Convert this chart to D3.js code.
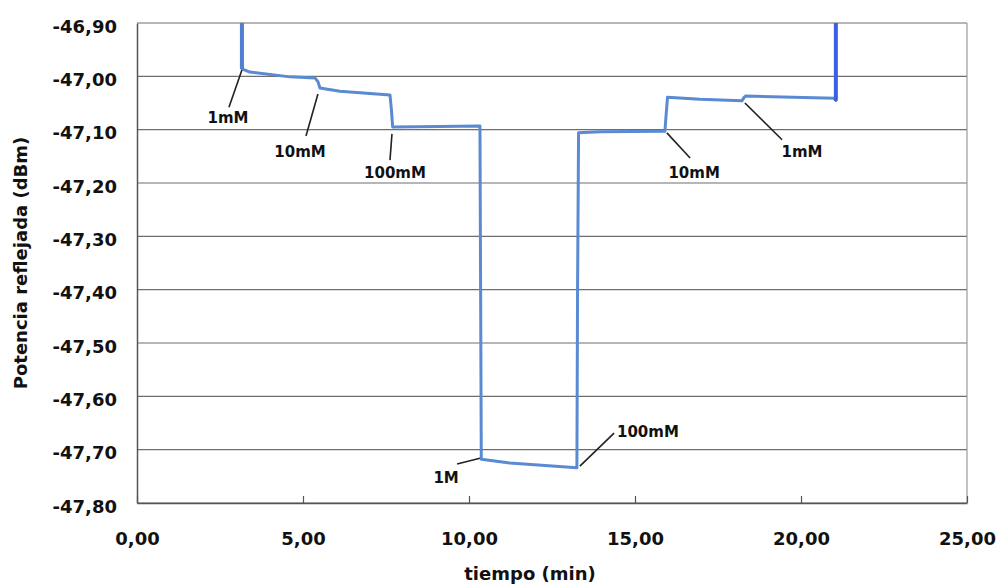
<!DOCTYPE html>
<html>
<head>
<meta charset="utf-8">
<script src="https://cdn.jsdelivr.net/npm/d3@7"></script>
<style>
  body { margin: 0; background: #fff; }
  svg { display: block; font-family: "DejaVu Sans", sans-serif; font-weight: bold; }
</style>
</head>
<body>
<div id="chart"></div>
<script>
// reflected power trace
const time = [3.16, 3.16, 3.40, 4.61, 5.36, 5.45, 5.51, 6.11, 7.62, 7.66, 7.70, 9.13, 10.33, 10.35, 10.37, 11.23, 13.25, 13.27, 13.30, 13.95, 15.90, 15.94, 15.98, 16.96, 18.22, 18.28, 18.33, 21.02]
const power = [-46.80, -46.986, -46.992, -47.001, -47.003, -47.010, -47.022, -47.028, -47.035, -47.060, -47.095, -47.094, -47.093, -47.40, -47.718, -47.725, -47.734, -47.40, -47.106, -47.104, -47.103, -47.070, -47.039, -47.043, -47.046, -47.040, -47.037, -47.041]

// last segment, drawn brighter
const recoveryTime = [21.02, 21.05, 21.05]
const recoveryPower = [-47.041, -47.044, -46.80]

const xTicks = [0, 5, 10, 15, 20, 25]
const yTicks = [-46.9, -47.0, -47.1, -47.2, -47.3, -47.4, -47.5, -47.6, -47.7, -47.8]

// annotations: label, arrow start (t,v), arrow end (t,v), label centre (t,v)
const labels = ["1mM", "10mM", "100mM", "1M", "100mM", "10mM", "1mM"]
const fromT = [3.16, 5.45, 7.68, 10.33, 13.34, 15.96, 18.31]
const fromV = [-46.988, -47.033, -47.108, -47.716, -47.731, -47.106, -47.050]
const toT = [2.77, 5.09, 7.62, 9.64, 14.37, 16.66, 19.43]
const toV = [-47.058, -47.112, -47.157, -47.727, -47.669, -47.153, -47.119]
const textT = [2.74, 4.91, 7.77, 9.31, 15.39, 16.78, 20.03]
const textV = [-47.078, -47.142, -47.181, -47.753, -47.667, -47.180, -47.142]

const width = 996
const height = 585
const margin = { top: 23, right: 29, bottom: 82, left: 137 }

const svg = d3.select("#chart")
  .append("svg")
  .attr("width", width)
  .attr("height", height)

const x = d3.scaleLinear()
  .domain([0, 25])
  .range([margin.left, width - margin.right])

const y = d3.scaleLinear()
  .domain([-47.8, -46.9])
  .range([height - margin.bottom, margin.top])

// comma decimals, plain hyphen for the sign
const fmt = d => d3.format(".2f")(d).replace(".", ",").replace("\u2212", "-")

// grid
svg.append("g")
  .selectAll("line")
  .data(yTicks)
  .join("line")
    .attr("x1", x(0))
    .attr("x2", x(25))
    .attr("y1", d => y(d))
    .attr("y2", d => y(d))
    .attr("stroke", "#6e6e6e")
    .attr("stroke-width", 1.2)

// right border
svg.append("line")
  .attr("x1", x(25)).attr("x2", x(25))
  .attr("y1", y(-46.9)).attr("y2", y(-47.8))
  .attr("stroke", "#9a9a9a")
  .attr("stroke-width", 1.2)

// x axis, ticks pointing inward
const xAxis = svg.append("g")
  .attr("transform", `translate(0,${y(-47.8)})`)
  .call(d3.axisBottom(x).tickValues(xTicks).tickFormat(fmt).tickSizeInner(-7).tickSizeOuter(0).tickPadding(29))
xAxis.select(".domain").attr("stroke", "#555").attr("stroke-width", 1.5)
xAxis.selectAll(".tick line").attr("stroke", "#555").attr("stroke-width", 1.2)
xAxis.selectAll("text")
  .attr("font-size", 18)
  .attr("font-family", "DejaVu Sans")
  .attr("font-weight", "bold")
  .attr("fill", "#111")

// y axis
const yAxis = svg.append("g")
  .attr("transform", `translate(${x(0)},0)`)
  .call(d3.axisLeft(y).tickValues(yTicks).tickFormat(fmt).tickSize(0).tickPadding(20))
yAxis.select(".domain").attr("stroke", "#555").attr("stroke-width", 1.5)
yAxis.selectAll("text")
  .attr("font-size", 18)
  .attr("font-family", "DejaVu Sans")
  .attr("font-weight", "bold")
  .attr("fill", "#111")
  .attr("dy", "0.5em")

// axis titles
svg.append("text")
  .attr("x", 530)
  .attr("y", 580)
  .attr("text-anchor", "middle")
  .attr("font-size", 18)
  .attr("fill", "#111")
  .text("tiempo (min)")

svg.append("text")
  .attr("transform", `translate(27,${(y(-46.9) + y(-47.8)) / 2}) rotate(-90)`)
  .attr("text-anchor", "middle")
  .attr("font-size", 18)
  .attr("fill", "#111")
  .text("Potencia reflejada (dBm)")

// data
svg.append("clipPath")
  .attr("id", "plot")
  .append("rect")
  .attr("x", x(0))
  .attr("y", y(-46.9))
  .attr("width", x(25) - x(0))
  .attr("height", y(-47.8) - y(-46.9))

const line = d3.line()
  .x(i => x(time[i]))
  .y(i => y(power[i]))

const plot = svg.append("g").attr("clip-path", "url(#plot)")

plot.append("path")
  .datum(d3.range(time.length))
  .attr("d", line)
  .attr("fill", "none")
  .attr("stroke", "#5a8ad2")
  .attr("stroke-width", 3)
  .attr("stroke-linejoin", "round")

plot.append("path")
  .datum(d3.range(recoveryTime.length))
  .attr("d", d3.line().x(i => x(recoveryTime[i])).y(i => y(recoveryPower[i])))
  .attr("fill", "none")
  .attr("stroke", "#3d5fe4")
  .attr("stroke-width", 4)
  .attr("stroke-linejoin", "round")

// first drop drawn a bit heavier, like the reference
plot.append("line")
  .attr("x1", x(time[0])).attr("x2", x(time[1]))
  .attr("y1", y(power[0])).attr("y2", y(power[1]))
  .attr("stroke", "#4f7fd0")
  .attr("stroke-width", 4)

// annotations
const notes = svg.append("g")
notes.selectAll("line")
  .data(labels)
  .join("line")
    .attr("x1", (d, i) => x(fromT[i]))
    .attr("y1", (d, i) => y(fromV[i]))
    .attr("x2", (d, i) => x(toT[i]))
    .attr("y2", (d, i) => y(toV[i]))
    .attr("stroke", "#222")
    .attr("stroke-width", 1.6)

notes.selectAll("text")
  .data(labels)
  .join("text")
    .attr("x", (d, i) => x(textT[i]))
    .attr("y", (d, i) => y(textV[i]))
    .attr("dy", "0.36em")
    .attr("text-anchor", "middle")
    .attr("font-size", 15)
    .attr("fill", "#111")
    .text(d => d)
</script>
</body>
</html>
